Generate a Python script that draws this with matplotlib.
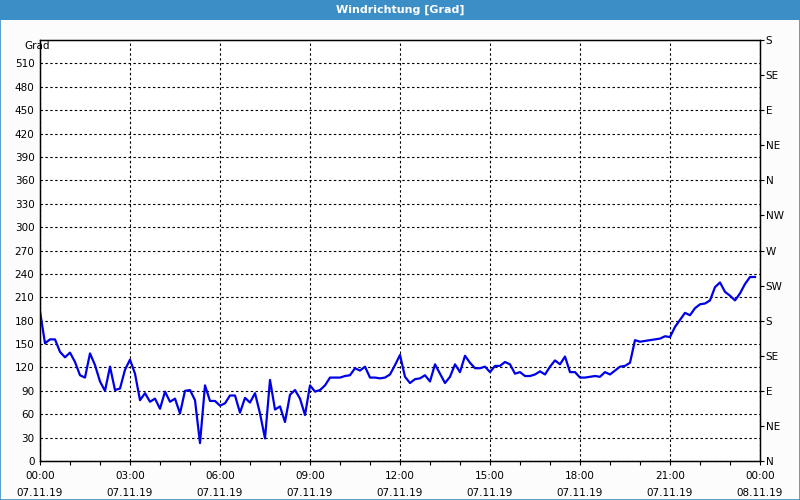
import numpy as np
import pandas as pd
import matplotlib
matplotlib.use("Agg")
import matplotlib.pyplot as plt
import matplotlib.dates as mdates
from matplotlib.patches import Rectangle

# wind direction in degrees, one value every 10 minutes (07.11.19 00:00 - 23:50)
direction = [
    192, 151, 156, 156, 140, 133, 139, 127, 110, 107, 138, 123,
    102, 90, 121, 91, 93, 117, 130, 112, 78, 87, 76, 80,
    67, 89, 76, 80, 61, 90, 91, 78, 23, 97, 77, 77,
    71, 74, 84, 84, 62, 81, 75, 87, 61, 29, 104, 66,
    70, 50, 85, 91, 80, 59, 97, 89, 91, 97, 107, 107,
    107, 109, 110, 119, 116, 121, 107, 107, 106, 107, 111, 123,
    136, 108, 100, 105, 106, 110, 102, 124, 112, 100, 108, 124,
    114, 135, 126, 119, 119, 121, 114, 122, 122, 127, 124, 112,
    114, 109, 109, 111, 115, 111, 121, 129, 124, 134, 114, 114,
    107, 107, 108, 109, 108, 114, 111, 116, 121, 122, 126, 155,
    153, 154, 155, 156, 157, 160, 159, 172, 181, 190, 187, 196,
    201, 202, 206, 223, 229, 217, 212, 206, 215, 227, 236, 236,
]
times = pd.date_range("2019-11-07 00:00", periods=len(direction), freq="10min")

left_ticks = list(range(0, 511, 30))
compass_ticks = list(range(0, 541, 45))
compass_labels = ["N", "NE", "E", "SE", "S", "SW", "W", "NW", "N", "NE", "E", "SE", "S"]

title = "Windrichtung [Grad]"
bg = "#FBFCFB"
bar_blue = "#3C8EC6"

plt.rcParams["font.family"] = ["DejaVu Sans"]
plt.rcParams["font.size"] = 7.5

fig = plt.figure(figsize=(8, 5), dpi=100, facecolor=bg)

# title bar and window border
fig.patches.append(Rectangle((0, 0.96), 1, 0.04, transform=fig.transFigure,
                             facecolor=bar_blue, edgecolor="none", zorder=0))
fig.patches.append(Rectangle((0.0006, 0.001), 0.9988, 0.998, transform=fig.transFigure,
                             facecolor="none", edgecolor=bar_blue, lw=1.2, zorder=5))
fig.text(0.5, 0.98, title, color="white", fontweight="bold", fontsize=8,
         ha="center", va="center")

ax = fig.add_axes([0.05, 0.078, 0.90, 0.842])
ax.set_facecolor("white")
ax.plot(times, direction, color="#0000E6", lw=1.6, zorder=3)

start = pd.Timestamp("2019-11-07 00:00")
ax.set_xlim(start, start + pd.Timedelta(hours=24))
ax.set_ylim(0, 540)

ax.xaxis.set_major_locator(mdates.HourLocator(byhour=range(0, 24, 3)))
ax.xaxis.set_minor_locator(mdates.HourLocator())
ax.xaxis.set_major_formatter(mdates.DateFormatter("%H:%M\n%d.%m.%y"))
ax.set_yticks(left_ticks)

ax.grid(True, which="major", color="black", lw=0.8, linestyle=(0, (2.2, 2.2)))
ax.tick_params(axis="x", which="both", length=3, width=0.8, color="black", pad=4)
ax.tick_params(axis="y", length=0, pad=4)
for lbl in ax.get_xticklabels():
    lbl.set_linespacing(1.9)
for s in ax.spines.values():
    s.set_color("black")
    s.set_linewidth(1.0)

ax2 = ax.twinx()
ax2.set_ylim(0, 540)
ax2.set_yticks(compass_ticks)
ax2.set_yticklabels(compass_labels)
ax2.tick_params(axis="y", length=3, width=0.8, pad=1)

fig.text(0.03, 0.908, "Grad", ha="left", va="center")

fig.savefig("out.png", dpi=100, facecolor=bg)
